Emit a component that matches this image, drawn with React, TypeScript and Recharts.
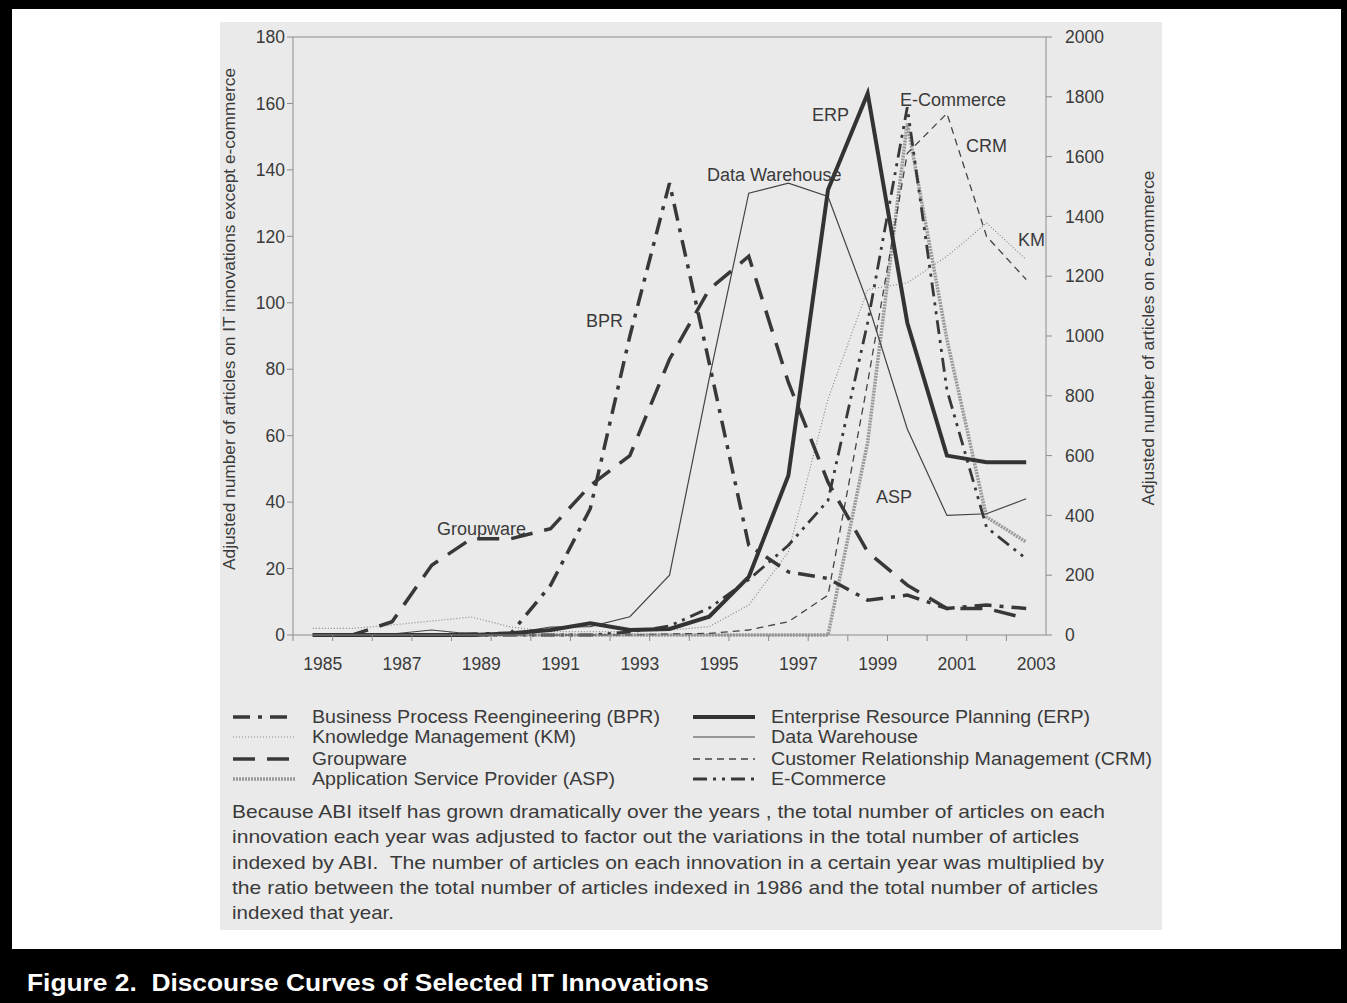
import React from 'react';
import { ComposedChart, Line, XAxis, YAxis, ReferenceLine } from 'recharts';

// ---------- data (1985 .. 2003) ----------
const years = [1985, 1986, 1987, 1988, 1989, 1990, 1991, 1992, 1993, 1994, 1995, 1996, 1997, 1998, 1999, 2000, 2001, 2002, 2003];
const bpr = [0, 0, 0, 0, 0.3, 0.5, 15, 38, 90, 136, 82, 27, 19, 17, 10.5, 12, 8, 9, 8];
const km = [2, 2, 3, 4.2, 5.4, 2.4, 1, 1, 1, 1.5, 2.5, 9, 25, 71, 104, 106, 114, 124, 113];
const groupware = [0, 0, 4, 21, 29, 29, 32, 45, 54, 83, 104, 114, 76, 46, 25, 15, 8, 8, 5];
const asp = [0, 0, 0, 0, 0, 0, 0, 0, 0, 0, 0, 0, 0, 0, 58, 154, 89, 35.5, 28];
const erp = [0, 0, 0, 0, 0, 0.5, 1.5, 3.5, 1.5, 1.8, 5.5, 17.5, 48, 134, 163, 94, 54, 52, 52];
const dataWarehouse = [0, 0, 0.3, 1.5, 0.3, 0.5, 2.4, 2.5, 5.5, 18, 77, 133, 136, 132, 100, 62, 36, 36.5, 41];
const crm = [0, 0, 0, 0, 0, 0, 0, 0, 0, 0.3, 0.5, 1.5, 4, 12, 76, 145, 157, 120, 107];
const ecommerce = [0, 0, 0, 0, 0, 0, 0, 0, 10, 30, 90, 185, 300, 450, 1045, 1765, 820, 360, 255];

const leftTicks = [0, 20, 40, 60, 80, 100, 120, 140, 160, 180];
const rightTicks = [0, 200, 400, 600, 800, 1000, 1200, 1400, 1600, 1800, 2000];
const labelledYears = years.filter((y) => y % 2 === 1);

const data = years.map((year, i) => ({
  year,
  bpr: bpr[i],
  km: km[i],
  groupware: groupware[i],
  asp: asp[i],
  erp: erp[i],
  dw: dataWarehouse[i],
  crm: crm[i],
  ecom: ecommerce[i],
}));

// ---------- layout / styles ----------
const FONT = '"Liberation Sans", Arial, Helvetica, sans-serif';
const INK = '#3a3a3a';
const AXIS = '#8c8c8c';
const CH_W = 1347;
const CH_H = 700;
const MARGIN = { top: 37, right: 241, bottom: 35, left: 233 };
const YW = 60;
const XH = 30;
const PLOT_LEFT = MARGIN.left + YW;
const PLOT_RIGHT = CH_W - MARGIN.right - YW;
const PLOT_BOTTOM = CH_H - MARGIN.bottom - XH;
const PLOT_W = PLOT_RIGHT - PLOT_LEFT;
const BAND = PLOT_W / years.length;

const STY = {
  bpr: { stroke: '#383838', strokeWidth: 3.5, strokeDasharray: '17 8 4 8' },
  km: { stroke: '#8a8a8a', strokeWidth: 1.2, strokeDasharray: '1 2' },
  groupware: { stroke: '#383838', strokeWidth: 3.5, strokeDasharray: '22 12' },
  asp: { stroke: '#999999', strokeWidth: 3.5, strokeDasharray: '2 1' },
  erp: { stroke: '#333333', strokeWidth: 4 },
  dw: { stroke: '#444444', strokeWidth: 1.2 },
  crm: { stroke: '#444444', strokeWidth: 1.3, strokeDasharray: '7 5' },
  ecom: { stroke: '#383838', strokeWidth: 2.8, strokeDasharray: '14 6 3 6 3 6' },
};

const XTick = (props: any) => {
  const { x, payload } = props;
  const show = labelledYears.includes(payload.value);
  const bx = x - BAND / 2;
  return (
    <g>
      <line x1={bx} x2={bx} y1={PLOT_BOTTOM} y2={PLOT_BOTTOM + 6} stroke={AXIS} strokeWidth={1} />
      {show && (
        <text x={x + 10} y={PLOT_BOTTOM + 35} textAnchor="middle" fontSize={17.5} fontFamily={FONT} fill={INK}>
          {payload.value}
        </text>
      )}
    </g>
  );
};

const legendLeft = [
  { key: 'bpr', label: 'Business Process Reengineering (BPR)', y: 717, len: 348 },
  { key: 'km', label: 'Knowledge Management (KM)', y: 737, len: 264 },
  { key: 'groupware', label: 'Groupware', y: 759, len: 95 },
  { key: 'asp', label: 'Application Service Provider (ASP)', y: 779, len: 303 },
];
const legendRight = [
  { key: 'erp', label: 'Enterprise Resource Planning (ERP)', y: 717, len: 319 },
  { key: 'dw', label: 'Data Warehouse', y: 737, len: 147 },
  { key: 'crm', label: 'Customer Relationship Management (CRM)', y: 759, len: 381 },
  { key: 'ecom', label: 'E-Commerce', y: 779, len: 115 },
];

const paragraph = [
  { t: 'Because ABI itself has grown dramatically over the years , the total number of articles on each', len: 873 },
  { t: 'innovation each year was adjusted to factor out the variations in the total number of articles', len: 847 },
  { t: 'indexed by ABI.\u00a0 The number of articles on each innovation in a certain year was multiplied by', len: 872 },
  { t: 'the ratio between the total number of articles indexed in 1986 and the total number of articles', len: 866 },
  { t: 'indexed that year.', len: 162 },
];

const annotations = [
  { t: 'ERP', x: 812, y: 115 },
  { t: 'E-Commerce', x: 900, y: 100 },
  { t: 'CRM', x: 966, y: 146 },
  { t: 'Data Warehouse', x: 707, y: 175 },
  { t: 'KM', x: 1018, y: 240 },
  { t: 'BPR', x: 586, y: 321 },
  { t: 'ASP', x: 876, y: 497 },
  { t: 'Groupware', x: 437, y: 529 },
];

export default function App() {
  return (
    <div style={{ position: 'absolute', left: 0, top: 0, width: 1347, height: 1003, background: '#000', overflow: 'hidden' }}>
      <div style={{ position: 'absolute', left: 12, top: 9, width: 1329, height: 940, background: '#fff' }} />
      <div style={{ position: 'absolute', left: 220, top: 22, width: 942, height: 908, background: '#eaeaea' }} />
      <div style={{ position: 'absolute', left: 0, top: 0 }}>
        <ComposedChart width={CH_W} height={CH_H} data={data} margin={MARGIN}>
          <XAxis
            dataKey="year"
            type="category"
            interval={0}
            height={XH}
            padding={{ left: BAND / 2, right: BAND / 2 }}
            tick={<XTick />}
            tickLine={false}
            axisLine={{ stroke: AXIS, strokeWidth: 1 }}
          />
          <YAxis
            yAxisId="left"
            orientation="left"
            width={YW}
            domain={[0, 180]}
            ticks={leftTicks}
            tickSize={6}
            tickMargin={2}
            axisLine={{ stroke: AXIS, strokeWidth: 1 }}
            tickLine={{ stroke: AXIS }}
            tick={{ fontSize: 17.5, fontFamily: FONT, fill: INK }}
          />
          <YAxis
            yAxisId="right"
            orientation="right"
            width={YW}
            domain={[0, 2000]}
            ticks={rightTicks}
            tickSize={6}
            tickMargin={13}
            axisLine={{ stroke: AXIS, strokeWidth: 1 }}
            tickLine={{ stroke: AXIS }}
            tick={{ fontSize: 17.5, fontFamily: FONT, fill: INK, textAnchor: 'start' }}
          />
          <ReferenceLine yAxisId="left" y={180} stroke={AXIS} strokeWidth={1} />
          <Line yAxisId="left" dataKey="km" type="linear" dot={false} isAnimationActive={false} {...STY.km} />
          <Line yAxisId="left" dataKey="asp" type="linear" dot={false} isAnimationActive={false} {...STY.asp} />
          <Line yAxisId="left" dataKey="crm" type="linear" dot={false} isAnimationActive={false} {...STY.crm} />
          <Line yAxisId="left" dataKey="dw" type="linear" dot={false} isAnimationActive={false} {...STY.dw} />
          <Line yAxisId="left" dataKey="groupware" type="linear" dot={false} isAnimationActive={false} {...STY.groupware} />
          <Line yAxisId="left" dataKey="bpr" type="linear" dot={false} isAnimationActive={false} {...STY.bpr} />
          <Line yAxisId="right" dataKey="ecom" type="linear" dot={false} isAnimationActive={false} {...STY.ecom} />
          <Line yAxisId="left" dataKey="erp" type="linear" dot={false} isAnimationActive={false} {...STY.erp} />
        </ComposedChart>
      </div>
      <svg
        width={1347}
        height={1003}
        style={{ position: 'absolute', left: 0, top: 0, pointerEvents: 'none' }}
        fontFamily={FONT}
      >
        <text
          x={231}
          y={319}
          transform="rotate(-90 231 319)"
          textAnchor="middle"
          dominantBaseline="middle"
          fontSize={16}
          fill={INK}
          textLength={502}
          lengthAdjust="spacingAndGlyphs"
        >
          Adjusted number of articles on IT innovations except e-commerce
        </text>
        <text
          x={1150}
          y={338}
          transform="rotate(-90 1150 338)"
          textAnchor="middle"
          dominantBaseline="middle"
          fontSize={16}
          fill={INK}
          textLength={335}
          lengthAdjust="spacingAndGlyphs"
        >
          Adjusted number of articles on e-commerce
        </text>
        {annotations.map((a) => (
          <text key={a.t} x={a.x} y={a.y + 6} fontSize={18} fill={INK}>
            {a.t}
          </text>
        ))}
        {legendLeft.map((l) => (
          <g key={l.key}>
            <line x1={233} x2={295} y1={l.y} y2={l.y} {...(STY as any)[l.key]} />
            <text x={312} y={l.y + 6} fontSize={17.5} fill={INK} textLength={l.len} lengthAdjust="spacingAndGlyphs">
              {l.label}
            </text>
          </g>
        ))}
        {legendRight.map((l) => (
          <g key={l.key}>
            <line x1={693} x2={755} y1={l.y} y2={l.y} {...(STY as any)[l.key]} />
            <text x={771} y={l.y + 6} fontSize={17.5} fill={INK} textLength={l.len} lengthAdjust="spacingAndGlyphs">
              {l.label}
            </text>
          </g>
        ))}
        {paragraph.map((p, i) => (
          <text
            key={i}
            x={232}
            y={818 + i * 25.3}
            fontSize={18.5}
            fill={INK}
            textLength={p.len}
            lengthAdjust="spacingAndGlyphs"
          >
            {p.t}
          </text>
        ))}
        <text
          x={27}
          y={991}
          fontSize={24}
          fontWeight="bold"
          fill="#fff"
          textLength={682}
          lengthAdjust="spacingAndGlyphs"
          fontFamily='"Liberation Sans Narrow", "Liberation Sans", Arial, sans-serif'
        >
          {'Figure 2.\u00a0 Discourse Curves of Selected IT Innovations'}
        </text>
      </svg>
    </div>
  );
}
